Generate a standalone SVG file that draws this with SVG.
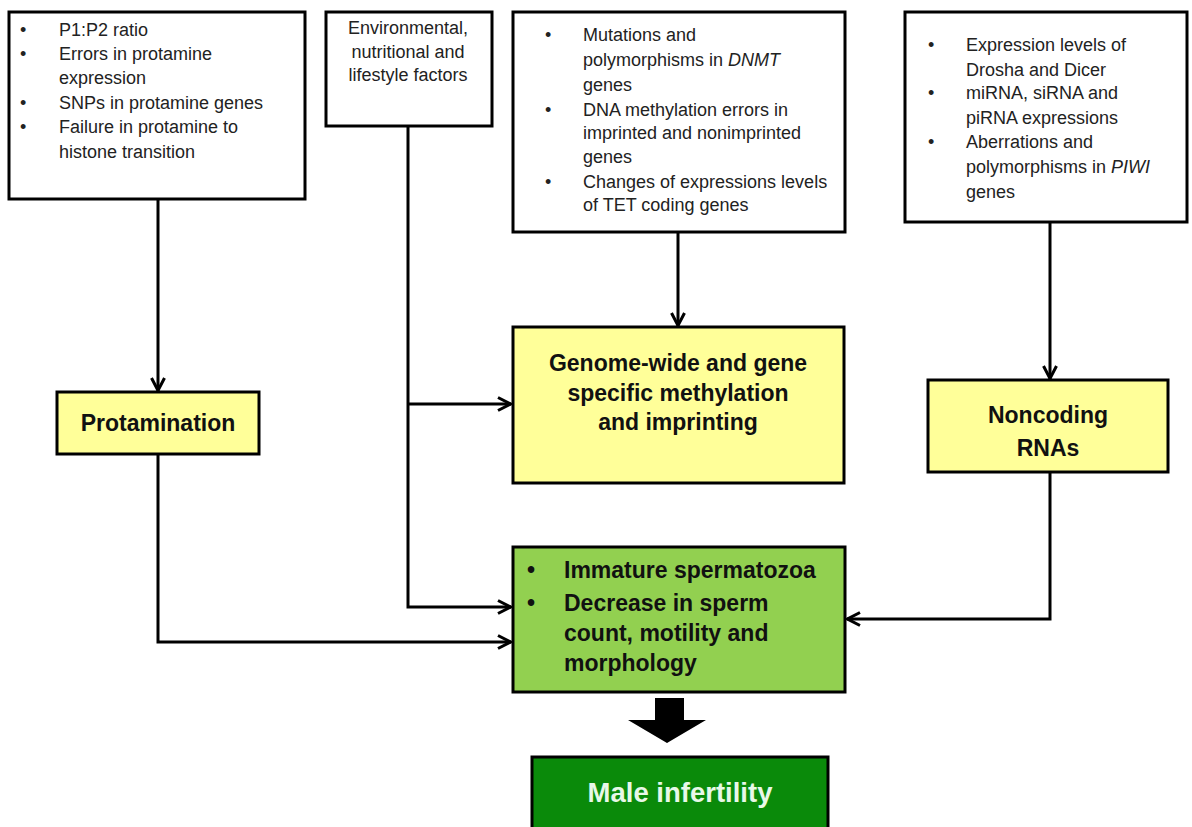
<svg xmlns="http://www.w3.org/2000/svg" width="1192" height="827" viewBox="0 0 1192 827">
<defs>
<style>
.box{fill:#ffffff;stroke:#000;stroke-width:3}
.yel{fill:#FFFF99;stroke:#000;stroke-width:3}
.grn{fill:#92D050;stroke:#000;stroke-width:3}
.dg{fill:#0A8A0A;stroke:#000;stroke-width:3}
.t{font-family:"Liberation Sans",Arial,sans-serif;font-size:18px;fill:#222}
.b{font-family:"Liberation Sans",Arial,sans-serif;font-size:23px;font-weight:bold;fill:#111}
.w{font-family:"Liberation Sans",Arial,sans-serif;font-size:27.5px;font-weight:bold;fill:#E8F8E8}
.c{fill:none;stroke:#000;stroke-width:3}
</style>
<marker id="ah" viewBox="0 0 16 16" refX="15" refY="8" markerWidth="16" markerHeight="16" markerUnits="userSpaceOnUse" orient="auto">
<path d="M2,1.5 L14.5,8 L2,14.5" fill="none" stroke="#000" stroke-width="3"/>
</marker>
</defs>
<rect width="1192" height="827" fill="#fff"/>

<g id="connectors">
<path class="c" d="M158,199 V391" marker-end="url(#ah)"/>
<path class="c" d="M408,126 V607 H511" marker-end="url(#ah)"/>
<path class="c" d="M408,404 H511" marker-end="url(#ah)"/>
<path class="c" d="M158,454 V642 H511" marker-end="url(#ah)"/>
<path class="c" d="M678,232 V326" marker-end="url(#ah)"/>
<path class="c" d="M1050,222 V379" marker-end="url(#ah)"/>
<path class="c" d="M1050,472 V619 H847" marker-end="url(#ah)"/>
<polygon points="655,698 684,698 684,720 706,720 667,743 628,720 655,720" fill="#000"/>
</g>

<g id="box1">
<rect class="box" x="9" y="12" width="296" height="187"/>
<g class="t">
<text x="20" y="36">•</text><text x="59" y="36">P1:P2 ratio</text>
<text x="20" y="60">•</text><text x="59" y="60">Errors in protamine</text>
<text x="59" y="84">expression</text>
<text x="20" y="109">•</text><text x="59" y="109">SNPs in protamine genes</text>
<text x="20" y="133">•</text><text x="59" y="133">Failure in protamine to</text>
<text x="59" y="158">histone transition</text>
</g>
</g>

<g id="box2">
<rect class="box" x="326" y="12" width="166" height="114"/>
<g class="t" text-anchor="middle">
<text x="408" y="34">Environmental,</text>
<text x="408" y="58">nutritional and</text>
<text x="408" y="81">lifestyle factors</text>
</g>
</g>

<g id="box3">
<rect class="box" x="513" y="12" width="332" height="220"/>
<g class="t">
<text x="545" y="41">•</text><text x="583" y="41">Mutations and</text>
<text x="583" y="66">polymorphisms in <tspan font-style="italic">DNMT</tspan></text>
<text x="583" y="91">genes</text>
<text x="545" y="116">•</text><text x="583" y="116">DNA methylation errors in</text>
<text x="583" y="139">imprinted and nonimprinted</text>
<text x="583" y="163">genes</text>
<text x="545" y="188">•</text><text x="583" y="188">Changes of expressions levels</text>
<text x="583" y="211">of TET coding genes</text>
</g>
</g>

<g id="box4">
<rect class="box" x="905" y="12" width="282" height="210"/>
<g class="t">
<text x="928" y="51">•</text><text x="966" y="51">Expression levels of</text>
<text x="966" y="76">Drosha and Dicer</text>
<text x="928" y="99">•</text><text x="966" y="99">miRNA, siRNA and</text>
<text x="966" y="124">piRNA expressions</text>
<text x="928" y="148">•</text><text x="966" y="148">Aberrations and</text>
<text x="966" y="173">polymorphisms in <tspan font-style="italic">PIWI</tspan></text>
<text x="966" y="198">genes</text>
</g>
</g>

<g id="protamination">
<rect class="yel" x="57" y="392" width="202" height="62"/>
<text class="b" x="158" y="431" text-anchor="middle">Protamination</text>
</g>

<g id="methylation">
<rect class="yel" x="513" y="327" width="331" height="156"/>
<g class="b" text-anchor="middle">
<text x="678" y="371">Genome-wide and gene</text>
<text x="678" y="401">specific methylation</text>
<text x="678" y="430">and imprinting</text>
</g>
</g>

<g id="noncoding">
<rect class="yel" x="928" y="380" width="240" height="92"/>
<g class="b" text-anchor="middle">
<text x="1048" y="423">Noncoding</text>
<text x="1048" y="456">RNAs</text>
</g>
</g>

<g id="outcome">
<rect class="grn" x="513" y="547" width="332" height="145"/>
<g class="b">
<text x="527" y="578">•</text><text x="564" y="578">Immature spermatozoa</text>
<text x="527" y="611">•</text><text x="564" y="611">Decrease in sperm</text>
<text x="564" y="641">count, motility and</text>
<text x="564" y="671">morphology</text>
</g>
</g>

<g id="infertility">
<rect class="dg" x="532" y="757" width="296" height="80"/>
<text class="w" x="680" y="802" text-anchor="middle">Male infertility</text>
</g>
</svg>
